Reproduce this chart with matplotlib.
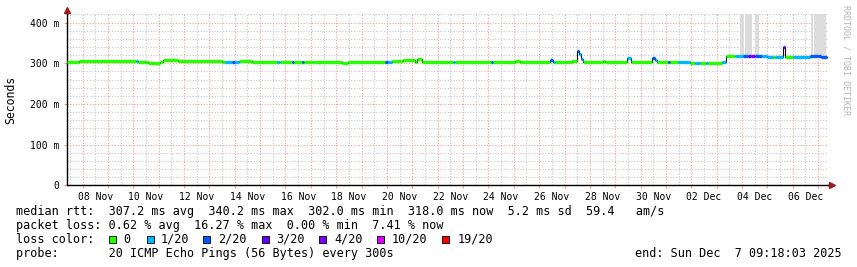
import matplotlib
matplotlib.use("Agg")
import matplotlib.pyplot as plt
import matplotlib.dates as mdates
from matplotlib.patches import Rectangle
from matplotlib.ticker import MultipleLocator, FuncFormatter, NullFormatter
import pandas as pd

W, H = 857, 267

# median rtt as steps: start time, value (ms), loss class (index into loss_colors)
seg_start = [
    "2025-11-07 09:18", "2025-11-07 20:40", "2025-11-10 02:36", "2025-11-10 04:30",
    "2025-11-10 11:06", "2025-11-10 13:54", "2025-11-11 01:18", "2025-11-11 04:06",
    "2025-11-11 18:18", "2025-11-13 11:54", "2025-11-13 14:48", "2025-11-13 21:24",
    "2025-11-14 00:12", "2025-11-14 04:00", "2025-11-14 16:18", "2025-11-15 16:00",
    "2025-11-15 18:48", "2025-11-16 06:12", "2025-11-16 08:00", "2025-11-16 15:36",
    "2025-11-16 17:30", "2025-11-17 02:00", "2025-11-18 05:30", "2025-11-18 11:06",
    "2025-11-19 22:06", "2025-11-20 01:00", "2025-11-20 04:48", "2025-11-20 15:12",
    "2025-11-21 02:30", "2025-11-21 04:24", "2025-11-21 09:06", "2025-11-22 09:42",
    "2025-11-22 14:30", "2025-11-22 16:24", "2025-11-24 02:24", "2025-11-24 04:18",
    "2025-11-25 01:06", "2025-11-25 05:48", "2025-11-26 10:12", "2025-11-26 13:06",
    "2025-11-26 15:00", "2025-11-27 00:24", "2025-11-27 07:00", "2025-11-27 11:48",
    "2025-11-27 13:42", "2025-11-27 15:36", "2025-11-27 17:24", "2025-11-28 12:24",
    "2025-11-28 14:18", "2025-11-29 11:06", "2025-11-29 14:54", "2025-11-30 10:42",
    "2025-11-30 13:36", "2025-11-30 15:30", "2025-12-01 01:54", "2025-12-01 03:48",
    "2025-12-01 11:18", "2025-12-01 22:42", "2025-12-02 03:24", "2025-12-02 08:06",
    "2025-12-02 13:48", "2025-12-02 15:42", "2025-12-03 04:54", "2025-12-03 08:42",
    "2025-12-03 17:12", "2025-12-04 00:48", "2025-12-04 05:30", "2025-12-04 08:24",
    "2025-12-04 12:12", "2025-12-04 18:48", "2025-12-04 23:30", "2025-12-05 05:12",
    "2025-12-05 07:06", "2025-12-05 14:36", "2025-12-05 16:30", "2025-12-06 00:06",
    "2025-12-06 16:12", "2025-12-07 02:36",
]
seg_rtt = [
    302.7, 305.0, 305.0, 302.0,
    303.5, 301.2, 303.5, 307.5,
    304.5, 302.4, 302.4, 302.4,
    303.5, 305.0, 302.4, 302.4,
    302.4, 302.4, 302.4, 302.4,
    302.4, 303.6, 301.2, 303.6,
    304.0, 304.0, 305.0, 307.5,
    303.0, 309.7, 304.0, 302.4,
    304.0, 304.0, 304.0, 304.0,
    306.0, 302.4, 309.0, 304.0,
    302.4, 303.0, 305.0, 330.0,
    322.0, 310.0, 303.0, 305.0,
    303.0, 313.0, 303.0, 313.0,
    308.0, 303.0, 303.0, 303.0,
    302.0, 301.0, 301.0, 301.0,
    301.0, 301.0, 303.0, 317.5,
    317.5, 317.5, 317.5, 317.5,
    317.5, 317.5, 315.5, 315.5,
    315.5, 341.0, 316.0, 316.0,
    317.5, 316.5,
]
seg_loss = [
    0, 0, 1, 0,
    0, 0, 0, 0,
    0, 0, 1, 2,
    1, 0, 0, 1,
    0, 2, 0, 2,
    0, 0, 0, 0,
    2, 1, 0, 0,
    0, 0, 0, 0,
    1, 0, 2, 0,
    0, 0, 2, 1,
    0, 0, 0, 2,
    1, 1, 0, 0,
    0, 1, 0, 2,
    1, 0, 2, 0,
    1, 0, 1, 0,
    1, 0, 1, 0,
    1, 2, 3, 4,
    2, 1, 1, 0,
    1, 4, 0, 1,
    2, 2,
]
seg_last = "2025-12-07 08:18"

# smoke (ping spread) blocks, clipped at the top of the graph
smoke_start = ["2025-12-03 22:00", "2025-12-04 02:42", "2025-12-04 12:12",
               "2025-12-06 17:06", "2025-12-06 20:00"]
smoke_end = ["2025-12-04 01:42", "2025-12-04 09:18", "2025-12-04 15:54",
             "2025-12-06 19:00", "2025-12-07 07:18"]
smoke_low = [318, 318, 318, 318, 318]
smoke_high = [450, 450, 450, 450, 450]

loss_labels = ["0", "1/20", "2/20", "3/20", "4/20", "10/20", "19/20"]
loss_colors = ["#26ff00", "#00b8ff", "#0059ff", "#5e00ff", "#7e00ff", "#dd00ff", "#ff0000"]

t_start = pd.Timestamp("2025-11-07 09:18:03")
t_end = pd.Timestamp("2025-12-07 09:18:03")

mono = "DejaVu Sans Mono"
plt.rcParams["font.family"] = mono

fig = plt.figure(figsize=(W / 100, H / 100), dpi=100)
fig.patch.set_facecolor("white")
ax = fig.add_axes([67 / W, (H - 185.3) / H, 761 / W, 171.3 / H])

starts = [mdates.date2num(pd.Timestamp(s)) for s in seg_start]
ends = starts[1:] + [mdates.date2num(pd.Timestamp(seg_last))]

for s, e, lo, hi in zip(smoke_start, smoke_end, smoke_low, smoke_high):
    s = mdates.date2num(pd.Timestamp(s))
    e = mdates.date2num(pd.Timestamp(e))
    ax.fill_between([s, e], [lo, lo], [hi, hi], color="#dcdcdc", lw=0, zorder=2)

# thin black step underneath gives the vertical connectors
ax.step(starts + [ends[-1]], seg_rtt + [seg_rtt[-1]], where="post", color="black", lw=0.8, zorder=3)
for s, e, v, c in zip(starts, ends, seg_rtt, seg_loss):
    ax.hlines(v, s, e, color=loss_colors[c], lw=2.4, zorder=4)

ax.set_xlim(mdates.date2num(t_start), mdates.date2num(t_end))
ax.set_ylim(0, 421)

ax.xaxis.set_major_locator(mdates.DayLocator())
ax.xaxis.set_minor_locator(mdates.HourLocator(byhour=[12]))
ax.xaxis.set_major_formatter(NullFormatter())


def day_label(v, pos):
    d = mdates.num2date(v)
    return d.strftime("%d %b") if d.day % 2 == 0 else ""


ax.xaxis.set_minor_formatter(FuncFormatter(day_label))
ax.yaxis.set_major_locator(MultipleLocator(100))
ax.yaxis.set_minor_locator(MultipleLocator(20))
ax.yaxis.set_major_formatter(FuncFormatter(lambda v, p: "0" if v == 0 else "%d m" % v))
ax.yaxis.set_minor_formatter(NullFormatter())

ax.set_axisbelow(True)
ax.grid(which="major", color="#f4a0a0", linestyle=(0, (1, 1.5)), lw=0.8)
ax.grid(which="minor", color="#c8c8c8", linestyle=(0, (1, 1.5)), lw=0.8)

ax.tick_params(axis="x", which="minor", length=0, pad=4.5, labelsize=7)
ax.tick_params(axis="x", which="major", length=2, color="#f4a0a0")
ax.tick_params(axis="y", which="major", length=2, color="#f4a0a0", pad=3.5, labelsize=7)
ax.tick_params(axis="y", which="minor", length=0)

for sp in ["top", "right"]:
    ax.spines[sp].set_visible(False)
for sp in ["left", "bottom"]:
    ax.spines[sp].set_color("black")
    ax.spines[sp].set_linewidth(1.0)

# axis arrows
ax.plot([0, 0], [1, 1.02], transform=ax.transAxes, clip_on=False, color="black", lw=1.0)
ax.plot([1, 1.004], [0, 0], transform=ax.transAxes, clip_on=False, color="black", lw=1.0)
ax.plot([0], [1.022], transform=ax.transAxes, clip_on=False, marker="^", ms=4, color="#9b1c1c")
ax.plot([1.005], [0], transform=ax.transAxes, clip_on=False, marker=">", ms=4, color="#9b1c1c")

fig.text(11 / W, 1 - 100 / H, "Seconds", rotation=90, ha="center", va="center", fontsize=8.3)
fig.text(846 / W, 1 - 60 / H, "RRDTOOL / TOBI OETIKER", rotation=270, ha="center", va="center",
         fontsize=6, color="#b4b4b4")

fs = 8.5
fig.text(16 / W, 1 - 215 / H,
         "median rtt:  307.2 ms avg  340.2 ms max  302.0 ms min  318.0 ms now  5.2 ms sd  59.4   am/s",
         fontsize=fs, va="baseline")
fig.text(16 / W, 1 - 229 / H,
         "packet loss: 0.62 % avg  16.27 % max  0.00 % min  7.41 % now",
         fontsize=fs, va="baseline")
fig.text(16 / W, 1 - 243 / H, "loss color:", fontsize=fs, va="baseline")

box_x = [109, 146.7, 203.3, 261.7, 319.3, 376.7, 442.3]
lab_x = [123.3, 160.7, 218.3, 276, 334.3, 391.7, 457.7]
for bx, lx, lab, col in zip(box_x, lab_x, loss_labels, loss_colors):
    fig.add_artist(Rectangle((bx / W, 1 - 243 / H), 7 / W, 7.5 / H, transform=fig.transFigure,
                             facecolor=col, edgecolor="black", lw=0.6))
    fig.text(lx / W, 1 - 243 / H, lab, fontsize=fs, va="baseline")

fig.text(16 / W, 1 - 257 / H, "probe:       20 ICMP Echo Pings (56 Bytes) every 300s",
         fontsize=fs, va="baseline")
fig.text(842 / W, 1 - 257 / H, "end: Sun Dec  7 09:18:03 2025", fontsize=fs, va="baseline", ha="right")

fig.savefig("out.png", dpi=100, facecolor="white")
